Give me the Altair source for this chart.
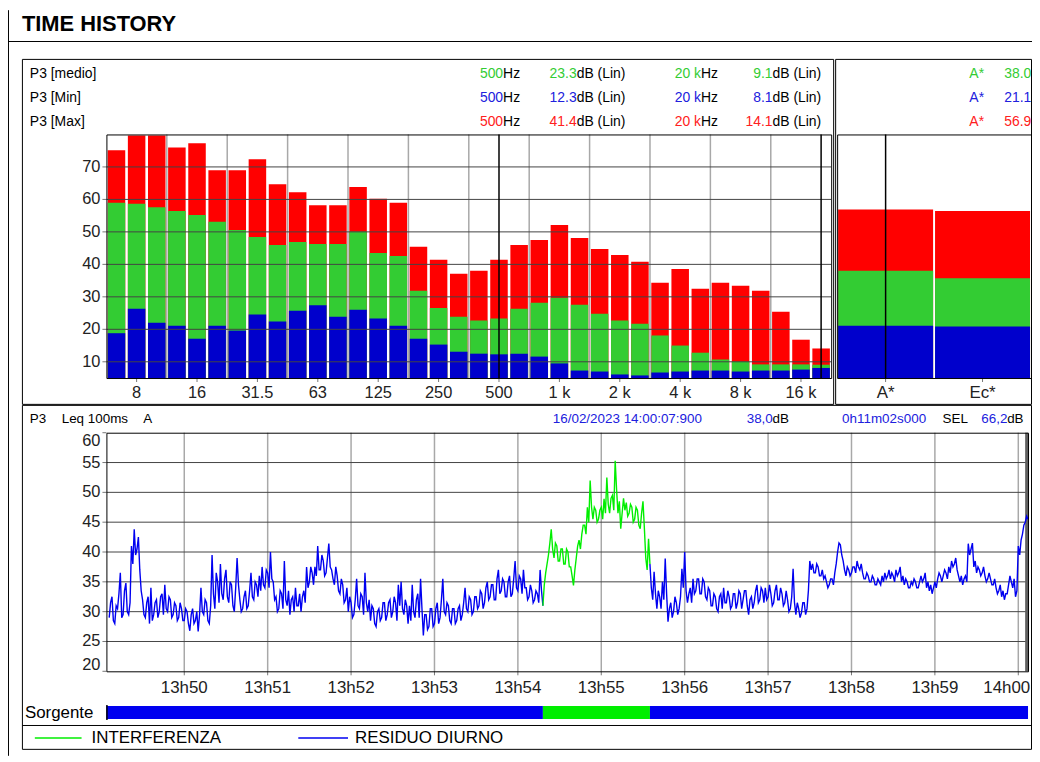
import altair as alt
import pandas as pd

FONT = "Liberation Sans, Arial, Helvetica, sans-serif"

# ---------------- colours ----------------
C_MAX = "#ff0000"
C_MEAN = "#33cc33"
C_MIN = "#0000cc"
T_MEAN = "#33cc33"
T_MIN = "#2020dd"
T_MAX = "#ff2020"
L_GREEN = "#00ee00"
L_BLUE = "#0000f0"

# ---------------- spectrum (1/3 octave) ----------------
freqs = ["6.3", "8", "10", "12.5", "16", "20", "25", "31.5", "40", "50", "63", "80",
         "100", "125", "160", "200", "250", "315", "400", "500", "630", "800", "1 k",
         "1.25 k", "1.6 k", "2 k", "2.5 k", "3.15 k", "4 k", "5 k", "6.3 k", "8 k",
         "10 k", "12.5 k", "16 k", "20 k"]
freq_tick_labels = ["8", "16", "31.5", "63", "125", "250", "500", "1 k", "2 k", "4 k", "8 k", "16 k"]
octave_edges = ["12.5", "25", "50", "100", "200", "400", "800", "1.6 k", "3.15 k", "6.3 k", "12.5 k"]
cursor_freqs = ["500", "20 k"]

spec_max = [75.1, 79.7, 79.7, 76.0, 77.3, 69.0, 69.0, 72.4, 64.7, 62.2, 58.2, 58.2,
            63.8, 60.2, 59.0, 45.4, 41.4, 37.1, 38.0, 41.4, 46.0, 47.5, 52.1, 48.1,
            44.7, 42.9, 40.8, 34.3, 38.6, 32.5, 34.3, 33.4, 31.9, 25.4, 16.8, 14.1]
spec_mean = [59.0, 58.7, 57.6, 56.4, 55.2, 53.1, 50.6, 48.4, 46.0, 46.9, 46.3, 46.3,
             50.1, 43.5, 42.6, 31.9, 26.6, 23.9, 22.7, 23.3, 26.3, 28.2, 29.7, 27.6,
             24.8, 22.7, 21.7, 18.1, 15.0, 12.8, 10.7, 10.1, 9.2, 9.2, 9.2, 9.1]
spec_min = [18.8, 26.3, 22.0, 21.1, 17.1, 21.1, 19.6, 24.6, 22.4, 25.7, 27.4, 23.9,
            26.0, 23.3, 21.1, 17.1, 15.3, 13.1, 12.5, 12.3, 12.5, 11.6, 9.5, 7.3,
            7.0, 6.1, 5.8, 6.7, 7.0, 7.3, 7.3, 7.0, 7.3, 7.3, 7.6, 8.1]
spec_db_ticks = [10, 20, 30, 40, 50, 60, 70]
spec_domain = [5, 80]

# ---------------- global weighted levels ----------------
weights = ["A*", "Ec*"]
w_max = [56.9, 56.4]
w_mean = [38.0, 35.7]
w_min = [21.1, 20.9]

# ---------------- time history (Leq 100ms A), readings every second ----------------
th_start = "2023-02-16 13:49:06"
# readings at the even seconds
th_even_1 = [29.0, 32.5, 28.0, 30.5, 36.5, 29.5, 34.8, 29.5, 41.0, 43.8,
             40.5, 37.0, 32.0, 29.0, 32.5, 34.0, 29.5, 32.0, 30.0, 33.0,
             34.5, 30.0, 32.0, 29.5, 31.0, 29.0, 30.5, 28.5, 30.0, 26.8,
             30.5, 28.5, 26.7, 34.0, 29.5, 31.5, 28.0, 39.5, 30.5, 35.0,
             38.0, 32.0, 37.0, 31.5, 34.5, 30.0, 39.0, 32.0, 30.5, 33.5,
             31.0, 36.5, 32.0, 34.5, 36.0, 37.5, 34.0, 36.5, 40.0, 35.0,
             32.5, 30.5, 33.0, 38.5, 31.0, 29.5, 32.5, 34.0, 31.0, 30.0,
             33.5, 37.5, 35.0, 36.5, 37.5, 41.0, 37.0, 38.5, 36.5, 41.4,
             37.0, 34.5, 36.0, 33.0, 34.5, 32.0, 30.0, 31.5, 29.5, 35.5,
             30.5, 32.5, 36.5, 30.0, 28.5, 30.5, 27.5, 30.5, 29.0, 31.5,
             29.5, 32.0, 30.0, 31.5, 34.5, 35.0, 29.5, 31.0]
th_even_2 = [31.0, 34.5, 29.0, 33.0, 35.5, 26.0, 29.5, 27.5, 30.5, 28.0,
             31.5, 29.0, 35.5, 29.5, 31.0, 28.0, 30.5, 28.5, 31.0, 29.5,
             34.0, 30.0, 32.0, 30.0, 32.5, 31.0, 33.0, 31.5, 35.0, 32.5,
             34.5, 32.0, 37.0, 33.5, 35.0, 32.5, 36.0, 33.0, 38.5, 33.5,
             35.5, 37.0, 34.0, 32.5, 33.5, 32.0, 33.0, 37.0,
             31.0, 36.5, 39.5, 43.8, 39.0, 41.0, 38.5, 40.5, 38.0, 40.0,
             37.5, 34.4, 39.0, 42.0, 43.0, 44.5, 47.5, 52.0, 45.5, 47.0,
             45.5, 47.5, 48.9, 52.5, 46.5, 49.5, 55.3, 46.5, 43.9, 49.0,
             48.3, 46.5, 47.5, 45.5, 47.0, 43.9, 48.5, 39.0, 42.2,
             34.0, 36.7, 30.5, 32.5, 35.0, 38.9, 28.3, 31.5, 30.0, 31.5,
             30.5, 37.2, 40.0, 31.5, 34.0, 35.5, 33.5, 35.5, 33.0, 35.0,
             32.0, 33.5, 31.0, 32.5]
th_even_3 = [30.0, 33.0, 34.0, 31.5, 32.5, 31.0, 33.0, 31.5, 33.0, 32.0,
             33.5, 29.5, 32.5, 31.5, 34.5, 32.0, 33.5, 34.0, 32.5, 33.0,
             31.5, 34.5, 32.0, 33.0, 31.5, 32.0, 30.5, 37.2, 29.5, 30.5,
             29.8, 31.5, 30.5, 38.5, 38.0, 36.5, 37.5, 36.0, 35.5, 35.0,
             34.5, 35.5, 36.5, 40.0, 41.2, 38.5, 36.0, 37.0, 36.5, 37.5,
             38.5, 37.0, 36.5, 35.5, 36.0, 35.0, 35.5, 34.5, 35.0, 36.0,
             36.5, 36.0, 35.5, 36.0, 37.0, 36.5, 35.0, 34.5, 35.0, 34.0,
             34.5, 35.0, 34.0, 36.0, 35.5, 34.0, 33.5, 33.0, 35.0, 35.5,
             36.0, 36.0, 36.5, 37.5, 38.5, 38.0, 37.0, 35.0, 34.5, 36.0,
             41.4, 40.5, 37.5, 36.5, 37.0, 36.5, 36.0, 35.5, 35.5, 34.5,
             34.0, 33.5, 32.5, 32.0, 33.0, 36.0, 34.0, 32.5, 41.0, 42.0,
             44.5, 46.0]
# readings at the odd seconds
th_odd_1 = [31.5, 28.5, 31.0, 33.0, 29.0, 33.5, 30.0, 31.5, 38.0, 39.5,
            42.5, 33.5, 29.5, 31.5, 28.0, 28.5, 31.5, 29.0, 32.5, 29.5,
            30.5, 32.5, 29.0, 31.5, 28.5, 31.5, 28.5, 30.5, 28.0, 29.5,
            28.0, 30.0, 29.5, 30.0, 32.0, 28.5, 31.0, 33.0, 36.5, 31.5,
            33.0, 35.5, 32.5, 35.0, 31.0, 34.0, 34.5, 30.0, 32.5, 30.5,
            33.5, 32.5, 35.0, 32.5, 33.5, 34.5, 37.0, 34.0, 35.5, 32.0,
            30.0, 33.5, 30.5, 32.0, 33.5, 32.0, 30.0, 31.0, 33.0, 32.5,
            31.5, 34.0, 37.5, 34.5, 36.0, 37.0, 39.5, 36.0, 39.0, 37.5,
            35.5, 37.5, 33.5, 35.5, 31.5, 34.0, 32.5, 29.0, 32.0, 31.0,
            33.0, 29.5, 31.5, 32.0, 31.0, 28.0, 30.0, 28.5, 31.5, 28.5,
            31.5, 29.0, 32.5, 28.5, 31.0, 30.5, 32.0, 28.0]
th_odd_2 = [28.5, 30.0, 32.0, 29.0, 30.5, 29.5, 27.0, 30.5, 27.5, 30.5,
            28.0, 32.0, 30.0, 31.5, 28.5, 30.5, 28.0, 30.5, 28.5, 31.5,
            30.5, 32.5, 29.5, 32.5, 30.5, 33.5, 30.5, 34.0, 32.0, 34.5,
            32.0, 35.5, 33.0, 35.5, 32.5, 35.0, 32.5, 35.5, 34.0, 36.0,
            33.0, 34.0, 32.0, 34.5, 31.5, 33.5, 31.5, 33.5,
            34.5, 38.0, 41.5, 40.5, 41.5, 38.5, 40.5, 38.0, 40.5, 37.5,
            36.0, 37.0, 41.0, 40.5, 44.5, 43.0, 45.0, 47.5, 47.5, 45.0,
            47.0, 45.5, 46.5, 48.0, 49.0, 47.0, 50.5, 48.5, 46.5, 47.0,
            46.0, 48.0, 45.0, 47.5, 44.5, 46.5, 44.0, 37.0, 38.0,
            32.0, 33.0, 33.5, 30.5, 32.0, 33.0, 30.5, 29.0, 32.5, 29.5,
            32.5, 34.0, 33.5, 33.0, 31.5, 33.0, 35.5, 33.0, 35.5, 32.5,
            34.0, 31.0, 33.0, 30.5]
th_odd_3 = [32.5, 30.5, 31.5, 33.5, 30.5, 33.0, 30.5, 33.5, 30.5, 33.5,
            31.0, 32.0, 30.5, 33.5, 31.5, 34.0, 31.5, 32.0, 34.5, 31.0,
            33.5, 32.0, 34.0, 31.0, 33.5, 30.0, 32.5, 31.5, 31.5, 29.0,
            31.5, 29.5, 33.5, 37.0, 36.5, 38.0, 36.0, 37.0, 36.0, 34.0,
            35.5, 34.5, 38.0, 41.5, 39.5, 37.0, 37.5, 36.0, 37.5, 36.5,
            37.5, 38.0, 35.5, 36.5, 35.0, 36.0, 34.5, 35.5, 34.5, 35.0,
            35.5, 37.0, 36.5, 35.0, 36.0, 37.5, 36.0, 35.5, 34.0, 35.0,
            35.5, 34.0, 35.0, 35.0, 36.5, 35.0, 34.5, 34.0, 34.0, 36.5,
            35.0, 37.0, 35.5, 36.5, 37.5, 39.0, 36.0, 36.0, 35.5, 35.0,
            39.5, 41.5, 38.5, 37.5, 36.0, 37.5, 35.0, 36.5, 34.5, 35.5,
            33.0, 34.5, 33.5, 33.0, 34.5, 35.0, 35.5, 33.5, 39.5, 43.0,
            45.0, 45.5]
green_first, green_last = 312, 389        # seconds after th_start: INTERFERENZA period
th_db_ticks = [20, 25, 30, 35, 40, 45, 50, 55, 60]
th_minutes = [(13, 50), (13, 51), (13, 52), (13, 53), (13, 54), (13, 55), (13, 56),
              (13, 57), (13, 58), (13, 59), (14, 0)]
th_domain = [(13, 49, 4), (14, 0, 7)]
th_cursor = "2023-02-16T14:00:06"
sources = ["INTERFERENZA", "RESIDUO DIURNO"]
sel_value = 66.2
stamp = "16/02/2023 14:00:07:900"
duration = "0h11m02s000"


def dt(h, m, s=0):
    return alt.DateTime(year=2023, month=2, date=16, hours=h, minutes=m, seconds=s)


def iso(h, m, s=0):
    return f"2023-02-16T{h:02d}:{m:02d}:{s:02d}"


ONE = pd.DataFrame({"o": [0]})


def txt(s, x, y, color="#000000", size=14, align="left", weight="normal"):
    return alt.Chart(ONE).mark_text(align=align, baseline="middle", font=FONT, fontSize=size,
                                    fontWeight=weight, color=color).encode(
        x=alt.value(x), y=alt.value(y), text=alt.value(s))


def hline(x1, x2, y, color="#000000", w=1):
    return alt.Chart(ONE).mark_rule(color=color, strokeWidth=w).encode(
        x=alt.value(x1), x2=alt.value(x2), y=alt.value(y))


def vline(x, y1, y2, color="#000000", w=1):
    return alt.Chart(ONE).mark_rule(color=color, strokeWidth=w).encode(
        x=alt.value(x), y=alt.value(y1), y2=alt.value(y2))


def box(x1, y1, x2, y2, color="#000000", w=1):
    return alt.Chart(ONE).mark_rect(fillOpacity=0, stroke=color, strokeWidth=w).encode(
        x=alt.value(x1), x2=alt.value(x2), y=alt.value(y1), y2=alt.value(y2))


LBL = dict(font=FONT, color="#222222")
TICK = "#777777"

# ================= panel A : spectrum =================
spec = pd.DataFrame({"f": freqs, "lmax": spec_max, "lmean": spec_mean, "lmin": spec_min})
xA = alt.Scale(domain=freqs, range=[99, 828], paddingInner=0, paddingOuter=0)
yA = alt.Scale(domain=spec_domain, range=[370, 125], zero=False, nice=False)
bw = alt.RelativeBandSize(0.87)
fticks = pd.DataFrame({"f": freq_tick_labels})
dbticks = pd.DataFrame({"v": spec_db_ticks})

a_grid_v = alt.Chart(pd.DataFrame({"f": octave_edges})).mark_rule(color="#a8a8a8", strokeWidth=1.5).encode(
    x=alt.X("f:N", scale=xA, bandPosition=0, axis=None), y=alt.value(125), y2=alt.value(370))
a_red = alt.Chart(spec).mark_bar(width=bw, color=C_MAX).encode(
    x=alt.X("f:N", scale=xA, sort=None, axis=None),
    y=alt.Y("lmax:Q", scale=yA, axis=None), y2=alt.datum(spec_domain[0]))
a_green = alt.Chart(spec).mark_bar(width=bw, color=C_MEAN).encode(
    x=alt.X("f:N", scale=xA, sort=None, axis=None),
    y=alt.Y("lmean:Q", scale=yA, axis=None), y2=alt.datum(spec_domain[0]))
a_blue = alt.Chart(spec).mark_bar(width=bw, color=C_MIN).encode(
    x=alt.X("f:N", scale=xA, sort=None, axis=None),
    y=alt.Y("lmin:Q", scale=yA, axis=None), y2=alt.datum(spec_domain[0]))
a_grid_h = alt.Chart(dbticks).mark_rule(color="#444444", strokeWidth=1).encode(
    y=alt.Y("v:Q", scale=yA, axis=None), x=alt.value(99), x2=alt.value(828))
a_cursor = alt.Chart(pd.DataFrame({"f": cursor_freqs})).mark_rule(color="#000000", strokeWidth=1.5).encode(
    x=alt.X("f:N", scale=xA, axis=None), y=alt.value(125), y2=alt.value(370))
a_xtick = alt.Chart(fticks).mark_rule(color=TICK).encode(
    x=alt.X("f:N", scale=xA, axis=None), y=alt.value(370), y2=alt.value(374))
a_xlab = alt.Chart(fticks).mark_text(fontSize=16.5, baseline="middle", **LBL).encode(
    x=alt.X("f:N", scale=xA, axis=None), y=alt.value(385), text="f:N")
a_ytick = alt.Chart(dbticks).mark_rule(color=TICK).encode(
    y=alt.Y("v:Q", scale=yA, axis=None), x=alt.value(95), x2=alt.value(99))
a_ylab = alt.Chart(dbticks).mark_text(fontSize=16.5, align="right", baseline="middle", **LBL).encode(
    y=alt.Y("v:Q", scale=yA, axis=None), x=alt.value(93), text="v:Q")
panel_a = alt.layer(a_grid_v, a_red, a_green, a_blue, a_grid_h, a_cursor,
                    a_xtick, a_xlab, a_ytick, a_ylab)

# ================= panel B : global weighted levels =================
wdf = pd.DataFrame({"w": weights, "wmax": w_max, "wmean": w_mean, "wmin": w_min})
xB = alt.Scale(domain=weights, range=[834, 1029], paddingInner=0, paddingOuter=0)
yB = alt.Scale(domain=spec_domain, range=[370, 125], zero=False, nice=False)
bwB = alt.RelativeBandSize(0.98)
b_red = alt.Chart(wdf).mark_bar(width=bwB, color=C_MAX).encode(
    x=alt.X("w:N", scale=xB, sort=None, axis=None),
    y=alt.Y("wmax:Q", scale=yB, axis=None), y2=alt.datum(spec_domain[0]))
b_green = alt.Chart(wdf).mark_bar(width=bwB, color=C_MEAN).encode(
    x=alt.X("w:N", scale=xB, sort=None, axis=None),
    y=alt.Y("wmean:Q", scale=yB, axis=None), y2=alt.datum(spec_domain[0]))
b_blue = alt.Chart(wdf).mark_bar(width=bwB, color=C_MIN).encode(
    x=alt.X("w:N", scale=xB, sort=None, axis=None),
    y=alt.Y("wmin:Q", scale=yB, axis=None), y2=alt.datum(spec_domain[0]))
b_cursor = alt.Chart(pd.DataFrame({"w": weights[:1]})).mark_rule(color="#000000", strokeWidth=1.5).encode(
    x=alt.X("w:N", scale=xB, axis=None), y=alt.value(125), y2=alt.value(370))
b_xtick = alt.Chart(wdf).mark_rule(color=TICK).encode(
    x=alt.X("w:N", scale=xB, axis=None), y=alt.value(370), y2=alt.value(374))
b_xlab = alt.Chart(wdf).mark_text(fontSize=17, baseline="middle", **LBL).encode(
    x=alt.X("w:N", scale=xB, axis=None), y=alt.value(385), text="w:N")
panel_b = alt.layer(b_red, b_green, b_blue, b_cursor, b_xtick, b_xlab)

# ================= panel C : time history =================
vals = [v for pair in zip(th_even_1 + th_even_2 + th_even_3, th_odd_1 + th_odd_2 + th_odd_3) for v in pair]
times = pd.date_range(th_start, periods=len(vals), freq="1s")
tstr = [t.strftime("%Y-%m-%dT%H:%M:%S") for t in times]
rows = []
for i, (ts, v) in enumerate(zip(tstr, vals)):
    if i <= green_first:
        rows.append((ts, v, sources[1], 0))
    if green_first <= i <= green_last:
        rows.append((ts, v, sources[0], 1))
    if i >= green_last:
        rows.append((ts, v, sources[1], 2))
th = pd.DataFrame(rows, columns=["t", "v", "src", "part"])

src_df = pd.DataFrame({
    "start": [iso(*th_domain[0]), tstr[green_first], tstr[green_last]],
    "end": [tstr[green_first], tstr[green_last], iso(*th_domain[1])],
    "src": [sources[1], sources[0], sources[1]]})

xC = alt.Scale(domain=[dt(*th_domain[0]), dt(*th_domain[1])], range=[99, 1026])
yC = alt.Scale(domain=[th_db_ticks[0], th_db_ticks[-1]], range=[665, 425], zero=False, nice=False)
colC = alt.Scale(domain=sources, range=[L_GREEN, L_BLUE])
mins = pd.DataFrame({"t": [iso(h, m) for h, m in th_minutes]})
thticks = pd.DataFrame({"v": th_db_ticks})

c_grid_v = alt.Chart(mins).mark_rule(color="#a8a8a8", strokeWidth=1.5).encode(
    x=alt.X("t:T", scale=xC, axis=None), y=alt.value(425), y2=alt.value(665))
c_grid_h = alt.Chart(pd.DataFrame({"v": th_db_ticks[1:-1]})).mark_rule(color="#444444", strokeWidth=1).encode(
    y=alt.Y("v:Q", scale=yC, axis=None), x=alt.value(99), x2=alt.value(1026))
c_line = alt.Chart(th).mark_line(strokeWidth=1.4).encode(
    x=alt.X("t:T", scale=xC, axis=None),
    y=alt.Y("v:Q", scale=yC, axis=None),
    color=alt.Color("src:N", scale=colC, legend=None),
    detail="part:N")
c_cursor = alt.Chart(pd.DataFrame({"t": [th_cursor]})).mark_rule(color="#606060", strokeWidth=3).encode(
    x=alt.X("t:T", scale=xC, axis=None), y=alt.value(425), y2=alt.value(665))
c_src = alt.Chart(src_df).mark_rect().encode(
    x=alt.X("start:T", scale=xC, axis=None), x2="end:T",
    y=alt.value(700), y2=alt.value(713),
    color=alt.Color("src:N", scale=colC, legend=None))
c_xtick = alt.Chart(mins).mark_rule(color=TICK).encode(
    x=alt.X("t:T", scale=xC, axis=None), y=alt.value(665), y2=alt.value(669))
c_xlab = alt.Chart(mins.iloc[:-1]).mark_text(fontSize=17, baseline="middle", **LBL).encode(
    x=alt.X("t:T", scale=xC, axis=None), y=alt.value(682), text=alt.Text("t:T", format="%Hh%M"))
c_xlab_last = alt.Chart(mins.iloc[-1:]).mark_text(fontSize=17, baseline="middle", align="right",
                                                   dx=12, **LBL).encode(
    x=alt.X("t:T", scale=xC, axis=None), y=alt.value(682), text=alt.Text("t:T", format="%Hh%M"))
c_ytick = alt.Chart(thticks).mark_rule(color=TICK).encode(
    y=alt.Y("v:Q", scale=yC, axis=None), x=alt.value(95), x2=alt.value(99))
c_ylab = alt.Chart(thticks.iloc[1:-1]).mark_text(fontSize=16.5, align="right", baseline="middle", **LBL).encode(
    y=alt.Y("v:Q", scale=yC, axis=None), x=alt.value(93), text="v:Q")
c_ylab_top = alt.Chart(thticks.iloc[-1:]).mark_text(fontSize=16.5, align="right", baseline="middle", dy=8, **LBL).encode(
    y=alt.Y("v:Q", scale=yC, axis=None), x=alt.value(93), text="v:Q")
c_ylab_bot = alt.Chart(thticks.iloc[:1]).mark_text(fontSize=16.5, align="right", baseline="middle", dy=-6, **LBL).encode(
    y=alt.Y("v:Q", scale=yC, axis=None), x=alt.value(93), text="v:Q")
panel_c = alt.layer(c_grid_v, c_grid_h, c_cursor, c_line, c_src, c_xtick, c_xlab, c_xlab_last,
                    c_ytick, c_ylab, c_ylab_top, c_ylab_bot)

# ================= decorations & texts =================
i500 = freqs.index("500")
rows_y = [64, 88, 112]
row_names = ["P3 [medio]", "P3 [Min]", "P3 [Max]"]
row_cols = [T_MEAN, T_MIN, T_MAX]
row_series = [spec_mean, spec_min, spec_max]
row_w = [w_mean, w_min, w_max]

texts = [txt("TIME HISTORY", 14, 14, size=22, weight="bold")]
for y, name, col, ser, wv in zip(rows_y, row_names, row_cols, row_series, row_w):
    texts += [
        txt(name, 22, y),
        txt(freqs[i500], 498, y, col, align="right"), txt("Hz", 498, y),
        txt(f"{ser[i500]:.1f}", 572, y, col, align="right"), txt("dB (Lin)", 572, y),
        txt(freqs[-1], 697, y, col, align="right"), txt("Hz", 697, y),
        txt(f"{ser[-1]:.1f}", 769, y, col, align="right"), txt("dB (Lin)", 769, y),
        txt(weights[0], 967, y, col), txt(f"{wv[0]:.1f}", 1002, y, col),
    ]

laeq = f"{w_mean[0]:.1f}".replace(".", ",")
sel = f"{sel_value:.1f}".replace(".", ",")
HS = 13.5
texts += [
    txt("P3", 22, 411, size=HS), txt("Leq 100ms", 54, 411, size=HS), txt("A", 136, 411, size=HS),
    txt(stamp, 548, 411, T_MIN, size=HS),
    txt(laeq, 743, 411, T_MIN, size=HS), txt("dB", 769, 411, size=HS),
    txt(duration, 839, 411, T_MIN, size=HS), txt("SEL", 940, 411, size=HS),
    txt(sel, 979, 411, T_MIN, size=HS), txt("dB", 1005, 411, size=HS),
    txt("Sorgente", 17, 707, size=17),
    txt(sources[0], 84, 732, size=17), txt(sources[1], 349, 732, size=17),
]

frames = [
    vline(0.5, 0, 750),
    hline(0, 1030, 31.5),
    box(14.5, 49.5, 830.5, 396.5),
    box(832.5, 49.5, 1029.5, 396.5),
    box(14.5, 397.5, 1029.5, 743.5),
    hline(14.5, 1029.5, 719.5),
    hline(27, 74, 732, L_GREEN, 1.5),
    hline(292, 342, 732, L_BLUE, 1.5),
]
plot_frames = [
    box(99.5, 125.5, 828.5, 370.5),
    box(834.5, 125.5, 1029.5, 370.5),
    box(99.5, 425.5, 1026.5, 665.5),
    vline(99.5, 699, 714, "#000000", 1.5),
]

chart = alt.layer(*frames, panel_a, panel_b, panel_c, *plot_frames, *texts).resolve_scale(
    x="independent", y="independent").properties(
    width=1030, height=750, padding=0, background="white",
    autosize=alt.AutoSizeParams(type="none")).configure_view(stroke=None)

chart.save("out.html", embed_options={"renderer": "svg", "actions": False})
